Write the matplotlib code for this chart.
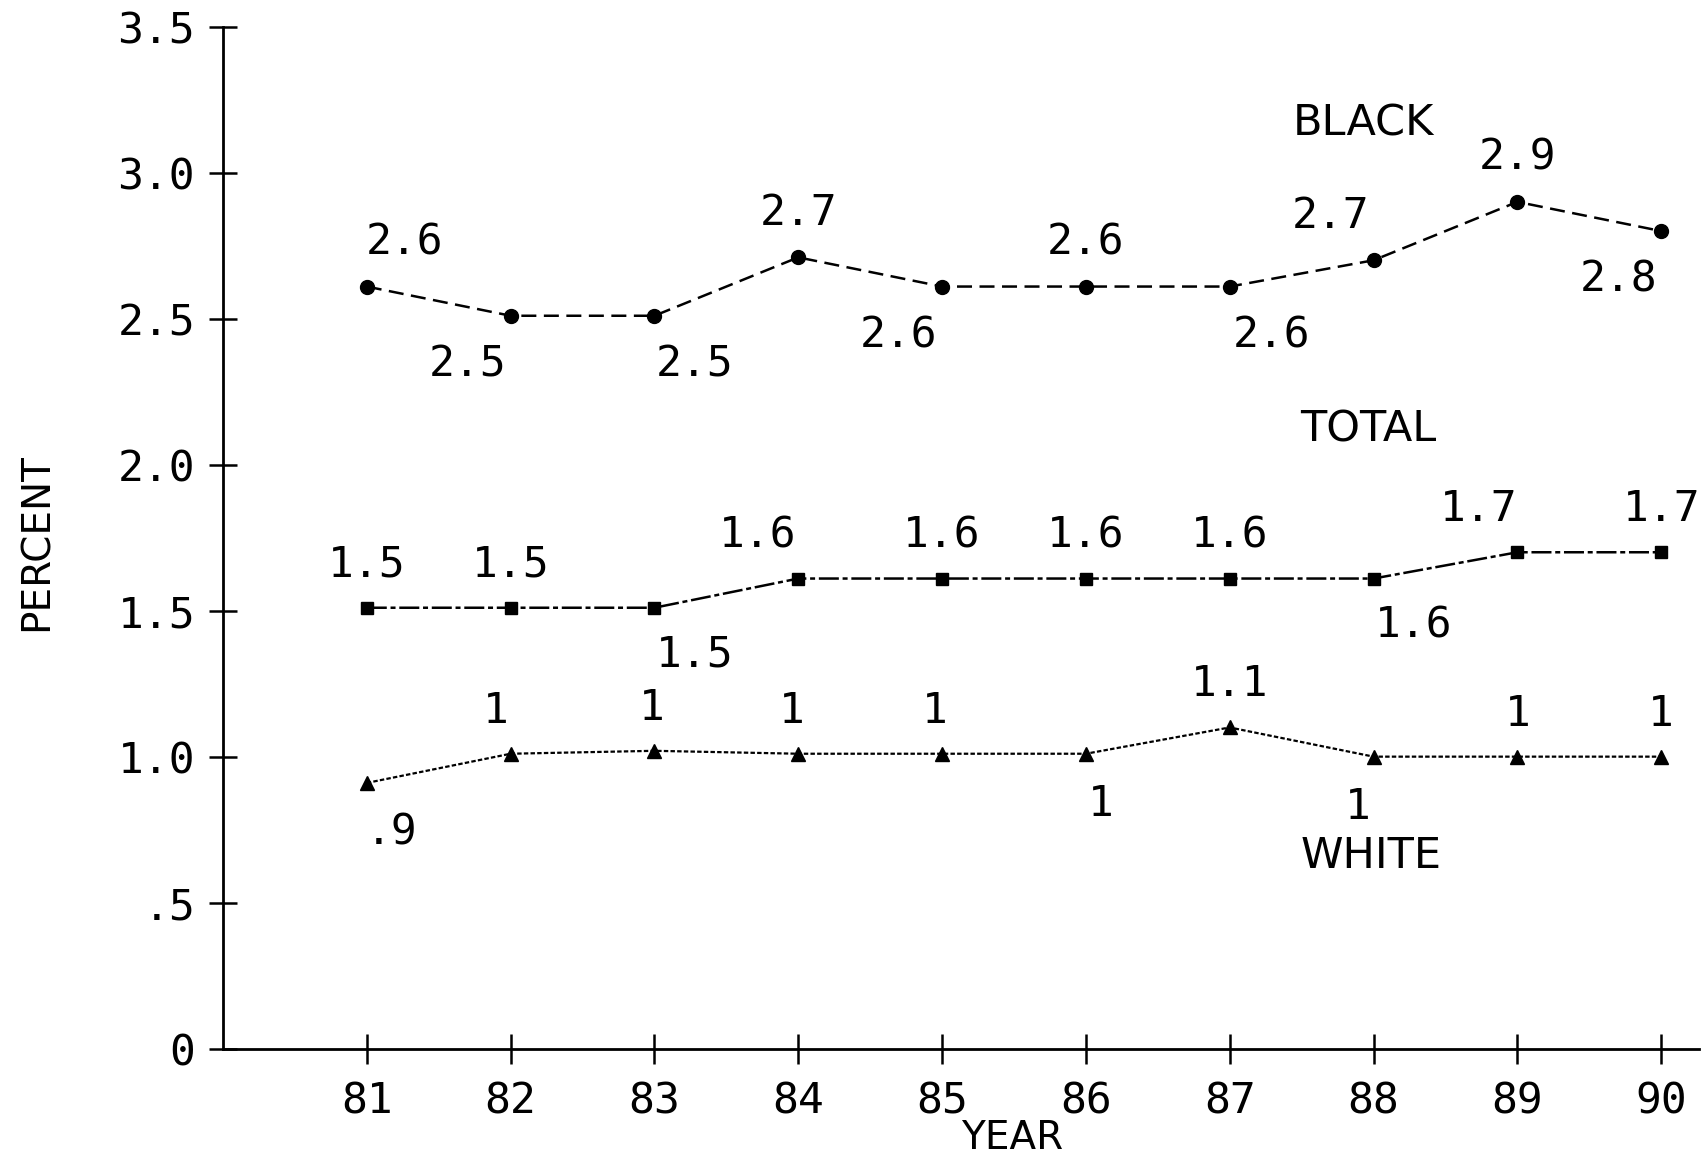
import matplotlib
matplotlib.use("Agg")
import matplotlib.pyplot as plt

# values (percent, by year)
years = [81, 82, 83, 84, 85, 86, 87, 88, 89, 90]
black = [2.61, 2.51, 2.51, 2.71, 2.61, 2.61, 2.61, 2.70, 2.90, 2.80]
total = [1.51, 1.51, 1.51, 1.61, 1.61, 1.61, 1.61, 1.61, 1.70, 1.70]
white = [0.91, 1.01, 1.02, 1.01, 1.01, 1.01, 1.10, 1.00, 1.00, 1.00]

black_labels = ["2.6", "2.5", "2.5", "2.7", "2.6", "2.6", "2.6", "2.7", "2.9", "2.8"]
total_labels = ["1.5", "1.5", "1.5", "1.6", "1.6", "1.6", "1.6", "1.6", "1.7", "1.7"]
white_labels = [".9", "1", "1", "1", "1", "1", "1.1", "1", "1", "1"]

# where each value label sits: 1 above the point, -1 below; sideways shift in points
black_side = [1, -1, -1, 1, -1, 1, -1, 1, 1, -1]
black_dx = [27, -31, 29, 0, -31, 0, 30, -31, 0, -31]
total_side = [1, 1, -1, 1, 1, 1, 1, -1, 1, 1]
total_dx = [0, 0, 29, -29, 0, 0, 0, 29, -28, 0]
white_side = [-1, 1, 1, 1, 1, -1, 1, -1, 1, 1]
white_dx = [18, -11, -2, -5, -5, 11, 0, -11, 0, 0]

series_names = ["BLACK", "TOTAL", "WHITE"]
name_x = [87.93, 87.96, 87.98]
name_y = [3.17, 2.12, 0.66]

yticks = [0, 0.5, 1.0, 1.5, 2.0, 2.5, 3.0, 3.5]
ytick_labels = ["0", ".5", "1.0", "1.5", "2.0", "2.5", "3.0", "3.5"]

MONO = "DejaVu Sans Mono"
SANS = "DejaVu Sans"

fig = plt.figure(figsize=(17.02, 11.6), dpi=100)
ax = fig.add_axes([0.131, 0.096, 0.867, 0.881])

ax.plot(years, black, color="black", lw=1.8, ls=(0, (6, 3)),
        marker="o", ms=10, mfc="black", mec="black")
ax.plot(years, total, color="black", lw=1.8, ls=(0, (8, 1.5, 2, 1.5)),
        marker="s", ms=9, mfc="black", mec="black")
ax.plot(years, white, color="black", lw=1.6, ls=(0, (2, 1)),
        marker="^", ms=10, mfc="black", mec="black")


def label_points(vals, labels, side, dx, up=32, down=35):
    for x, y, t, s, d in zip(years, vals, labels, side, dx):
        dy = up if s > 0 else -down
        ax.annotate(t, (x, y), xytext=(d, dy), textcoords="offset points",
                    ha="center", va="center", fontsize=31, family=MONO)


label_points(black, black_labels, black_side, black_dx)
label_points(total, total_labels, total_side, total_dx, up=31, down=34)
label_points(white, white_labels, white_side, white_dx, up=31, down=36)

for name, x, y in zip(series_names, name_x, name_y):
    ax.text(x, y, name, ha="center", va="center", fontsize=31, family=SANS)

ax.set_xlim(80, 90.26)
ax.set_ylim(0, 3.5)
ax.set_xticks(years)
ax.set_xticklabels([str(y) for y in years], fontsize=31, family=MONO)
ax.set_yticks(yticks)
ax.set_yticklabels(ytick_labels, fontsize=31, family=MONO)

ax.spines["top"].set_visible(False)
ax.spines["right"].set_visible(False)
ax.spines["left"].set_linewidth(2)
ax.spines["bottom"].set_linewidth(2)
ax.tick_params(axis="y", direction="inout", length=20, width=1.8, pad=10)
ax.tick_params(axis="x", direction="inout", length=22, width=1.8, pad=12)

ax.set_xlabel("YEAR", fontsize=28, family=SANS)
ax.xaxis.set_label_coords(0.535, -0.087)
ax.xaxis.label.set_va("center")
ax.set_ylabel("PERCENT", fontsize=28, family=SANS)
ax.yaxis.set_label_coords(-0.126, 0.496)
ax.yaxis.label.set_va("center")

fig.savefig("out.png", dpi=100)
